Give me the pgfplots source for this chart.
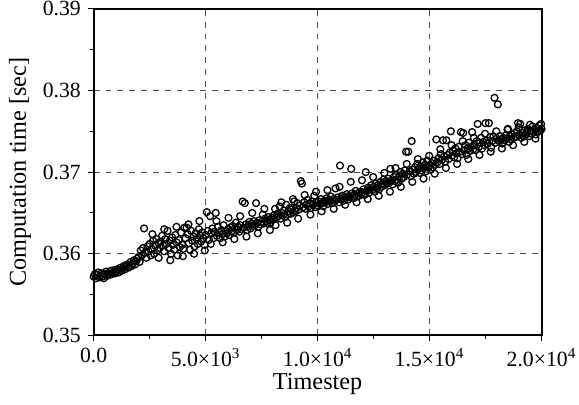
\documentclass[border=0pt]{standalone}
\usepackage{fontspec}
\setmainfont{Liberation Serif}
\usepackage{pgfplots}
\pgfplotsset{compat=1.18}
\begin{document}
\begin{tikzpicture}
\begin{axis}[
  scale only axis,
  width=227pt, height=165.5pt,
  xmin=0, xmax=20000, ymin=0.35, ymax=0.39,
  xtick={0,5000,10000,15000,20000},
  xticklabels={0.0, 5.0×10\textsuperscript{3}, 1.0×10\textsuperscript{4}, 1.5×10\textsuperscript{4}, 2.0×10\textsuperscript{4}},
  ytick={0.35,0.36,0.37,0.38,0.39},
  yticklabels={0.35,0.36,0.37,0.38,0.39},
  scaled x ticks=false, scaled y ticks=false,
  minor x tick num=1, minor y tick num=1,
  tick align=outside, tick pos=left,
  major tick length=3pt, minor tick length=1.8pt,
  every tick/.style={black, line width=0.5pt},
  axis line style={line width=1pt},
  grid=major,
  major grid style={dashed, black!70, line width=0.5pt},
  ticklabel style={font=\fontsize{11}{12}\selectfont},
  label style={font=\fontsize{12.3}{14}\selectfont},
  xlabel={Timestep},
  ylabel={Computation time [sec]},
  xlabel style={at={(axis description cs:0.5,-0.15)}, anchor=center},
  ylabel style={at={(axis description cs:-0.1645,0.5)}, anchor=center},
  clip=false,
]
\addplot[only marks, mark=o, mark size=1.75pt, mark options={line width=0.65pt, black}] coordinates {
(0,0.3572)(50,0.3575)(100,0.3570)(150,0.3574)(200,0.3577)(250,0.3571)(300,0.3573)(350,0.3576)(400,0.3572)(450,0.3570)
(500,0.3575)(550,0.3578)(600,0.3573)(650,0.3576)(700,0.3574)(750,0.3579)(800,0.3575)(850,0.3577)(900,0.3580)(950,0.3576)
(1000,0.3578)(1050,0.3581)(1100,0.3577)(1150,0.3580)(1200,0.3583)(1250,0.3579)(1300,0.3582)(1350,0.3585)(1400,0.3581)(1450,0.3584)
(1500,0.3587)(1550,0.3583)(1600,0.3586)(1650,0.3590)(1700,0.3585)(1750,0.3588)(1800,0.3592)(1850,0.3587)(1900,0.3591)(1950,0.3594)
(2000,0.3596)(2050,0.3590)(2100,0.3604)(2150,0.3598)(2200,0.3607)(2250,0.3631)(2300,0.3601)(2350,0.3595)(2400,0.3609)(2450,0.3603)
(2500,0.3612)(2550,0.3598)(2600,0.3606)(2650,0.3616)(2700,0.3600)(2750,0.3610)(2800,0.3618)(2850,0.3604)(2900,0.3613)(2950,0.3607)
(3000,0.3615)(3050,0.3622)(3100,0.3610)(3150,0.3603)(3200,0.3618)(3250,0.3612)(3300,0.3628)(3350,0.3607)(3400,0.3616)(3450,0.3600)
(3500,0.3620)(3550,0.3611)(3600,0.3605)(3650,0.3623)(3700,0.3614)(3750,0.3598)(3800,0.3617)(3850,0.3608)(3900,0.3626)(3950,0.3611)
(4000,0.3606)(4050,0.3632)(4100,0.3619)(4150,0.3632)(4200,0.3624)(4250,0.3613)(4300,0.3605)(4350,0.3628)(4400,0.3616)(4450,0.3621)
(4500,0.3609)(4550,0.3625)(4600,0.3618)(4650,0.3612)(4700,0.3630)(4750,0.3622)(4800,0.3615)(4850,0.3626)(4900,0.3619)(4950,0.3611)
(5000,0.3623)(5050,0.3651)(5100,0.3628)(5150,0.3617)(5200,0.3646)(5250,0.3625)(5300,0.3631)(5350,0.3619)(5400,0.3627)(5450,0.3650)
(5500,0.3622)(5550,0.3633)(5600,0.3626)(5650,0.3619)(5700,0.3629)(5750,0.3624)(5800,0.3635)(5850,0.3621)(5900,0.3628)(5950,0.3625)
(6000,0.3630)(6050,0.3623)(6100,0.3632)(6150,0.3627)(6200,0.3634)(6250,0.3626)(6300,0.3631)(6350,0.3638)(6400,0.3629)(6450,0.3633)
(6500,0.3627)(6550,0.3635)(6600,0.3630)(6650,0.3664)(6700,0.3632)(6750,0.3662)(6800,0.3636)(6850,0.3629)(6900,0.3634)(6950,0.3639)
(7000,0.3631)(7050,0.3637)(7100,0.3634)(7150,0.3640)(7200,0.3635)(7250,0.3662)(7300,0.3638)(7350,0.3633)(7400,0.3641)(7450,0.3636)
(7500,0.3639)(7550,0.3648)(7600,0.3637)(7650,0.3643)(7700,0.3640)(7750,0.3637)(7800,0.3645)(7850,0.3641)(7900,0.3638)(7950,0.3644)
(8000,0.3642)(8050,0.3647)(8100,0.3655)(8150,0.3644)(8200,0.3649)(8250,0.3646)(8300,0.3658)(8350,0.3643)(8400,0.3650)(8450,0.3647)
(8500,0.3653)(8550,0.3645)(8600,0.3660)(8650,0.3648)(8700,0.3652)(8750,0.3656)(8800,0.3649)(8850,0.3654)(8900,0.3651)(8950,0.3664)
(9000,0.3652)(9050,0.3656)(9100,0.3662)(9150,0.3654)(9200,0.3659)(9250,0.3689)(9300,0.3686)(9350,0.3657)(9400,0.3663)(9450,0.3655)
(9500,0.3660)(9550,0.3666)(9600,0.3658)(9650,0.3662)(9700,0.3656)(9750,0.3664)(9800,0.3660)(9850,0.3671)(9900,0.3657)(9950,0.3663)
(10000,0.3659)(10050,0.3664)(10100,0.3661)(10150,0.3667)(10200,0.3662)(10250,0.3658)(10300,0.3665)(10350,0.3663)(10400,0.3668)(10450,0.3661)
(10500,0.3666)(10550,0.3664)(10600,0.3670)(10650,0.3662)(10700,0.3667)(10750,0.3665)(10800,0.3680)(10850,0.3666)(10900,0.3669)(10950,0.3663)
(11000,0.3708)(11050,0.3667)(11100,0.3671)(11150,0.3665)(11200,0.3670)(11250,0.3668)(11300,0.3673)(11350,0.3666)(11400,0.3671)(11450,0.3669)
(11500,0.3704)(11550,0.3674)(11600,0.3668)(11650,0.3672)(11700,0.3677)(11750,0.3670)(11800,0.3674)(11850,0.3671)(11900,0.3676)(11950,0.3673)
(12000,0.3675)(12050,0.3679)(12100,0.3672)(12150,0.3700)(12200,0.3677)(12250,0.3681)(12300,0.3675)(12350,0.3679)(12400,0.3684)(12450,0.3678)
(12500,0.3682)(12550,0.3676)(12600,0.3686)(12650,0.3680)(12700,0.3684)(12750,0.3679)(12800,0.3688)(12850,0.3682)(12900,0.3686)(12950,0.3691)
(13000,0.3684)(13050,0.3689)(13100,0.3686)(13150,0.3692)(13200,0.3687)(13250,0.3704)(13300,0.3690)(13350,0.3685)(13400,0.3694)(13450,0.3689)
(13500,0.3697)(13550,0.3691)(13600,0.3687)(13650,0.3695)(13700,0.3700)(13750,0.3692)(13800,0.3698)(13850,0.3694)(13900,0.3702)(13950,0.3725)
(14000,0.3697)(14050,0.3725)(14100,0.3701)(14150,0.3695)(14200,0.3738)(14250,0.3703)(14300,0.3698)(14350,0.3706)(14400,0.3700)(14450,0.3710)
(14500,0.3704)(14550,0.3699)(14600,0.3707)(14650,0.3702)(14700,0.3712)(14750,0.3705)(14800,0.3709)(14850,0.3701)(14900,0.3714)(14950,0.3706)
(15000,0.3708)(15050,0.3703)(15100,0.3711)(15150,0.3706)(15200,0.3714)(15250,0.3709)(15300,0.3740)(15350,0.3712)(15400,0.3717)(15450,0.3710)
(15500,0.3722)(15550,0.3715)(15600,0.3739)(15650,0.3719)(15700,0.3713)(15750,0.3739)(15800,0.3721)(15850,0.3716)(15900,0.3724)(15950,0.3750)
(16000,0.3720)(16050,0.3726)(16100,0.3718)(16150,0.3729)(16200,0.3723)(16250,0.3717)(16300,0.3731)(16350,0.3725)(16400,0.3749)(16450,0.3722)
(16500,0.3748)(16550,0.3727)(16600,0.3733)(16650,0.3721)(16700,0.3729)(16750,0.3736)(16800,0.3726)(16850,0.3731)(16900,0.3749)(16950,0.3728)
(17000,0.3733)(17050,0.3727)(17100,0.3738)(17150,0.3759)(17200,0.3731)(17250,0.3736)(17300,0.3742)(17350,0.3729)(17400,0.3737)(17450,0.3733)
(17500,0.3760)(17550,0.3739)(17600,0.3735)(17650,0.3760)(17700,0.3743)(17750,0.3730)(17800,0.3738)(17850,0.3744)(17900,0.3791)(17950,0.3736)
(18000,0.3741)(18050,0.3783)(18100,0.3738)(18150,0.3744)(18200,0.3740)(18250,0.3735)(18300,0.3742)(18350,0.3739)(18400,0.3745)(18450,0.3741)
(18500,0.3753)(18550,0.3737)(18600,0.3744)(18650,0.3740)(18700,0.3746)(18750,0.3742)(18800,0.3748)(18850,0.3743)(18900,0.3750)(18950,0.3760)
(19000,0.3745)(19050,0.3759)(19100,0.3742)(19150,0.3748)(19200,0.3744)(19250,0.3751)(19300,0.3746)(19350,0.3749)(19400,0.3753)(19450,0.3744)
(19500,0.3750)(19550,0.3747)(19600,0.3756)(19650,0.3749)(19700,0.3752)(19750,0.3746)(19800,0.3754)(19850,0.3750)(19900,0.3757)(19950,0.3751)
(20000,0.3753)
(2620,0.3624)(2900,0.3595)(3150,0.3630)(3420,0.3592)(3700,0.3633)(3980,0.3597)(4230,0.3636)(4480,0.3600)(4720,0.3640)(4960,0.3604)
(5230,0.3612)(5480,0.3640)(5760,0.3614)(6020,0.3644)(6280,0.3618)(6540,0.3646)(6820,0.3621)(7080,0.3650)(7330,0.3625)(7620,0.3655)(7870,0.3629)
(8120,0.3635)(8380,0.3663)(8640,0.3638)(8900,0.3667)(9130,0.3643)(9420,0.3672)(9680,0.3648)(9930,0.3676)(10180,0.3652)(10440,0.3678)(10720,0.3655)(10980,0.3682)
(11230,0.3660)(11480,0.3688)(11740,0.3663)(11980,0.3690)(12240,0.3667)(12480,0.3694)(12730,0.3671)(12980,0.3699)(13230,0.3676)(13480,0.3705)(13720,0.3682)(13980,0.3710)
(14230,0.3688)(14480,0.3716)(14730,0.3692)(14980,0.3720)(15230,0.3698)(15480,0.3728)(15730,0.3705)(15980,0.3733)(16230,0.3710)(16480,0.3738)(16730,0.3716)(16980,0.3742)
(17230,0.3721)(17480,0.3747)(17730,0.3725)(17980,0.3750)(18230,0.3729)(18480,0.3752)(18730,0.3733)(18980,0.3755)(19230,0.3737)(19480,0.3758)(19730,0.3741)(19980,0.3759)
};
\end{axis}
\pgfresetboundingbox
\path[use as bounding box] (-47.5pt,-35pt) rectangle (246pt,170pt);
\end{tikzpicture}
\end{document}
